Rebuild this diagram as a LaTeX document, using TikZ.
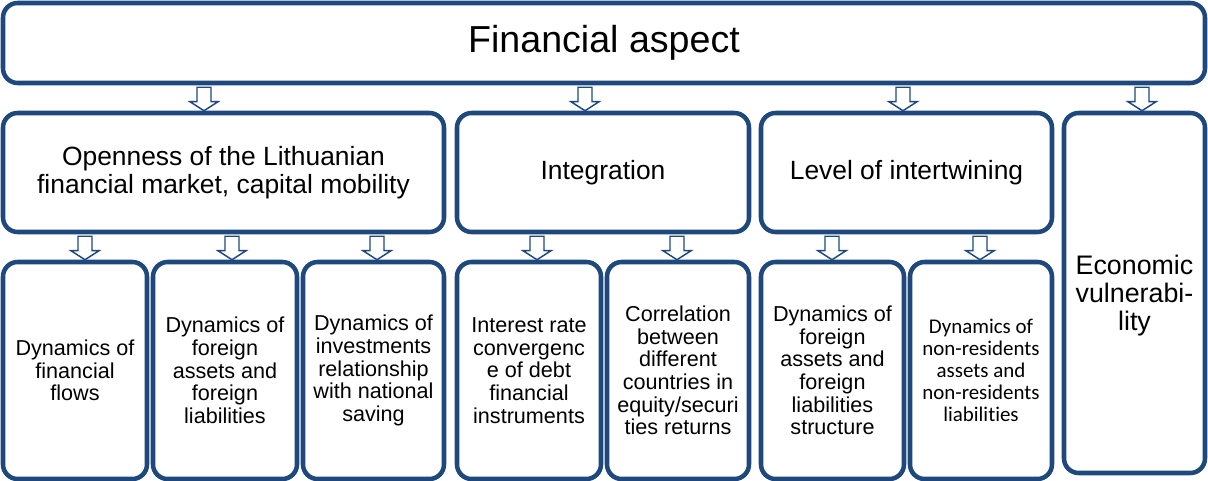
\documentclass[tikz,border=0pt]{standalone}
\usepackage{fontspec}
\setmainfont{Liberation Sans}
\newfontfamily\carlito[Ligatures=NoCommon]{Carlito}
\usetikzlibrary{calc}
\definecolor{boxblue}{RGB}{31,73,125}
\tikzset{
  box/.style={draw=boxblue, line width=3.4pt, rounded corners=11pt, align=center, inner sep=0pt, fill=white},
  hollow/.style={draw=boxblue, line width=1.1pt, fill=white},
  big/.style={font=\fontsize{28.2}{32}\selectfont},
  mid/.style={font=\fontsize{19.8}{20.6}\selectfont},
  small/.style={font=\fontsize{16.2}{17}\selectfont},
  vuln/.style={font=\fontsize{20.1}{20.8}\selectfont},
  calib/.style={font=\carlito\fontsize{15.7}{16.5}\selectfont},
}
% hollow down arrow: #1 x coordinate, #2 upper node, #3 lower node
\newcommand{\hollowdown}[3]{%
  \coordinate (tl) at (#1 |- #2.south);
  \coordinate (hd) at (#1 |- #3.north);
  \draw[hollow] ($(tl)+(-7,2)$) -- ($(hd)+(-7,-9)$) -- ($(hd)+(-14,-9)$) -- (hd)
    -- ($(hd)+(14,-9)$) -- ($(hd)+(7,-9)$) -- ($(tl)+(7,2)$) -- cycle ;}

\begin{document}
\begin{tikzpicture}[x=0.75pt,y=0.75pt,yscale=-1,xscale=1]

    \useasboundingbox (0,0) rectangle (1208,481);

    %Rounded Rectangle: top
    \node[box,big,minimum width=901.5pt,minimum height=60pt] (fin) at (604,43) {Financial aspect};

    %Rounded Rectangles: second row
    \node[box,mid,minimum width=330.75pt,minimum height=89.25pt] (open) at (223.5,172.5) {Openness of the Lithuanian\\financial market, capital mobility};
    \node[box,mid,minimum width=219pt,minimum height=89.25pt] (integ) at (603,172.5) {Integration};
    \node[box,mid,minimum width=218.25pt,minimum height=89.25pt] (level) at (906.5,172.5) {Level of intertwining};
    \node[box,vuln,minimum width=105.75pt,minimum height=270pt] (vuln) at (1134.5,293) {\\[-2.5pt]Economic\\vulnerabi-\\lity};

    %Rounded Rectangles: third row
    \node[box,small,minimum width=108pt,minimum height=162.75pt] (flows) at (75,370.5) {Dynamics of\\financial\\flows};
    \node[box,small,minimum width=108pt,minimum height=162.75pt] (forliab) at (225,370.5) {Dynamics of\\foreign\\assets and\\foreign\\liabilities};
    \node[box,small,minimum width=105.75pt,minimum height=162.75pt] (invest) at (373.5,370.5) {Dynamics of\\investments\\relationship\\with national\\saving};
    \node[box,small,minimum width=108pt,minimum height=162.75pt] (rate) at (529,370.5) {Interest rate\\convergenc\\e of debt\\financial\\instruments};
    \node[box,small,minimum width=106.5pt,minimum height=162.75pt] (corr) at (678,370.5) {Correlation\\between\\different\\countries in\\equity/securi\\ties returns};
    \node[box,small,minimum width=107.25pt,minimum height=162.75pt] (struct) at (832.5,370.5) {Dynamics of\\foreign\\assets and\\foreign\\liabilities\\structure};
    \node[box,calib,minimum width=106.5pt,minimum height=162.75pt] (nonres) at (981,370.5) {Dynamics of\\non-residents\\assets and\\non-residents\\liabilities};

    %Arrow positions
    \coordinate (ax1) at (204,0);
    \coordinate (ax2) at (585,0);
    \coordinate (ax3) at (903,0);
    \coordinate (ax4) at (1142,0);
    \coordinate (bx1) at (85,0);
    \coordinate (bx2) at (232,0);
    \coordinate (bx3) at (377,0);
    \coordinate (bx4) at (537,0);
    \coordinate (bx5) at (677,0);
    \coordinate (bx6) at (832,0);
    \coordinate (bx7) at (980,0);

    %Down Arrows
    \hollowdown{ax1}{fin}{open}
    \hollowdown{ax2}{fin}{integ}
    \hollowdown{ax3}{fin}{level}
    \hollowdown{ax4}{fin}{vuln}
    \hollowdown{bx1}{open}{flows}
    \hollowdown{bx2}{open}{forliab}
    \hollowdown{bx3}{open}{invest}
    \hollowdown{bx4}{integ}{rate}
    \hollowdown{bx5}{integ}{corr}
    \hollowdown{bx6}{level}{struct}
    \hollowdown{bx7}{level}{nonres}

\end{tikzpicture}
\end{document}
